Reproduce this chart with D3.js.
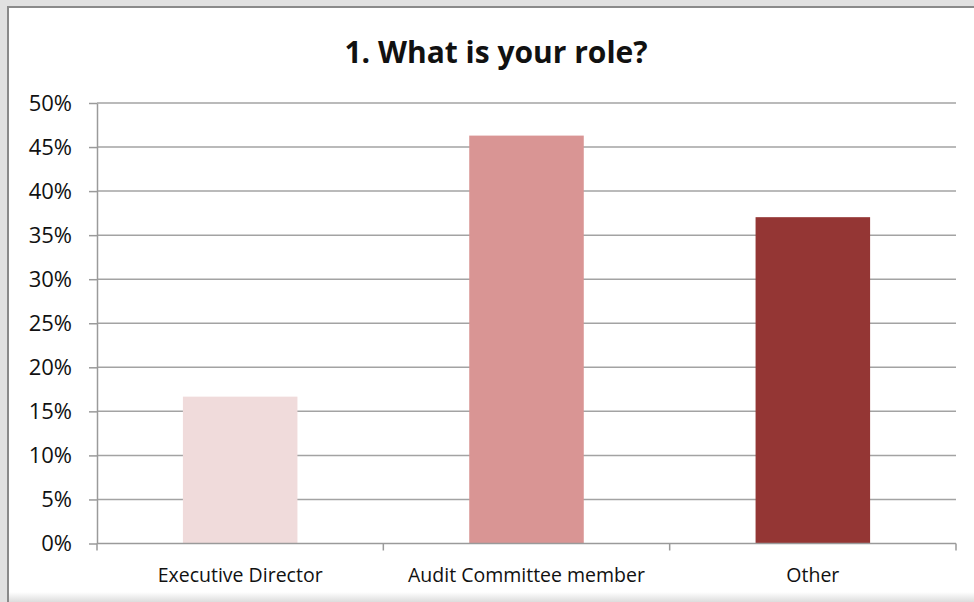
<!DOCTYPE html>
<html lang="en">
<head>
  <meta charset="UTF-8">
  <title>1. What is your role?</title>
  <script src="https://d3js.org/d3.v7.min.js"></script>
  <style>
    body { margin: 0; background: #e1e1e1; font-family: "Open Sans", Arial, sans-serif; }
    svg { display: block; }
    .grid line { stroke: #a3a3a3; stroke-width: 1.5; }
    .axis path, .axis line { stroke: #9a9a9a; stroke-width: 1.5; }
    .axis text { fill: #111; }
  </style>
</head>
<body>
  <svg width="974" height="602"></svg>
  <script>
    const categories = ["Executive Director", "Audit Committee member", "Other"];
    const values = [0.1667, 0.4630, 0.3704];
    const colors = ["#f0dbdb", "#d99594", "#943634"];
    const yTicks = [0, 0.05, 0.10, 0.15, 0.20, 0.25, 0.30, 0.35, 0.40, 0.45, 0.50];

    const svg = d3.select("svg");
    const width = +svg.attr("width"), height = +svg.attr("height");

    // chart frame
    svg.append("rect").attr("x", 8).attr("y", 7).attr("width", width).attr("height", height)
      .attr("fill", "#fff").attr("stroke", "#8a8a8a").attr("stroke-width", 2);
    const grad = svg.append("defs").append("linearGradient").attr("id", "shade")
      .attr("x1", 0).attr("y1", 0).attr("x2", 0).attr("y2", 1);
    grad.append("stop").attr("offset", "0%").attr("stop-color", "#fff");
    grad.append("stop").attr("offset", "100%").attr("stop-color", "#dcdcdc");
    svg.append("rect").attr("x", 9).attr("y", 592).attr("width", width).attr("height", 10)
      .attr("fill", "url(#shade)");

    const m = { left: 97, right: 956, top: 103, bottom: 543.5 };

    const x = d3.scaleBand().domain(categories).range([m.left, m.right]).paddingInner(0.6).paddingOuter(0.3);
    const xOuter = d3.scaleBand().domain(categories).range([m.left, m.right]);
    const y = d3.scaleLinear().domain([0, 0.5]).range([m.bottom, m.top]);

    svg.append("text")
      .attr("x", 496).attr("y", 63)
      .attr("text-anchor", "middle")
      .attr("font-size", 30).attr("font-weight", "bold").attr("fill", "#111")
      .text("1. What is your role?");

    svg.append("g").attr("class", "grid")
      .selectAll("line").data(yTicks.slice(1)).join("line")
      .attr("x1", m.left).attr("x2", m.right)
      .attr("y1", d => y(d)).attr("y2", d => y(d));

    svg.append("g").selectAll("rect").data(values).join("rect")
      .attr("x", (d, i) => x(categories[i]))
      .attr("width", x.bandwidth())
      .attr("y", d => y(d))
      .attr("height", d => y(0) - y(d))
      .attr("fill", (d, i) => colors[i]);

    const yAxis = svg.append("g").attr("class", "axis")
      .attr("transform", `translate(${m.left},0)`)
      .call(d3.axisLeft(y).tickValues(yTicks).tickFormat(d3.format(".0%")).tickSize(8).tickSizeOuter(0).tickPadding(17));
    yAxis.selectAll("text").attr("font-size", 22).attr("font-family", "Open Sans, Arial, sans-serif");

    const xAxis = svg.append("g").attr("class", "axis")
      .attr("transform", `translate(0,${m.bottom})`);
    xAxis.append("line").attr("x1", m.left).attr("x2", m.right);
    xAxis.selectAll(".tk").data(categories.concat([null])).join("line").attr("class", "tk")
      .attr("x1", (d, i) => m.left + i * xOuter.step()).attr("x2", (d, i) => m.left + i * xOuter.step())
      .attr("y1", 0).attr("y2", 7);
    xAxis.selectAll("text").data(categories).join("text")
      .attr("x", d => xOuter(d) + xOuter.bandwidth() / 2)
      .attr("y", 38)
      .attr("text-anchor", "middle")
      .attr("font-size", 19.5)
      .text(d => d);
  </script>
</body>
</html>
